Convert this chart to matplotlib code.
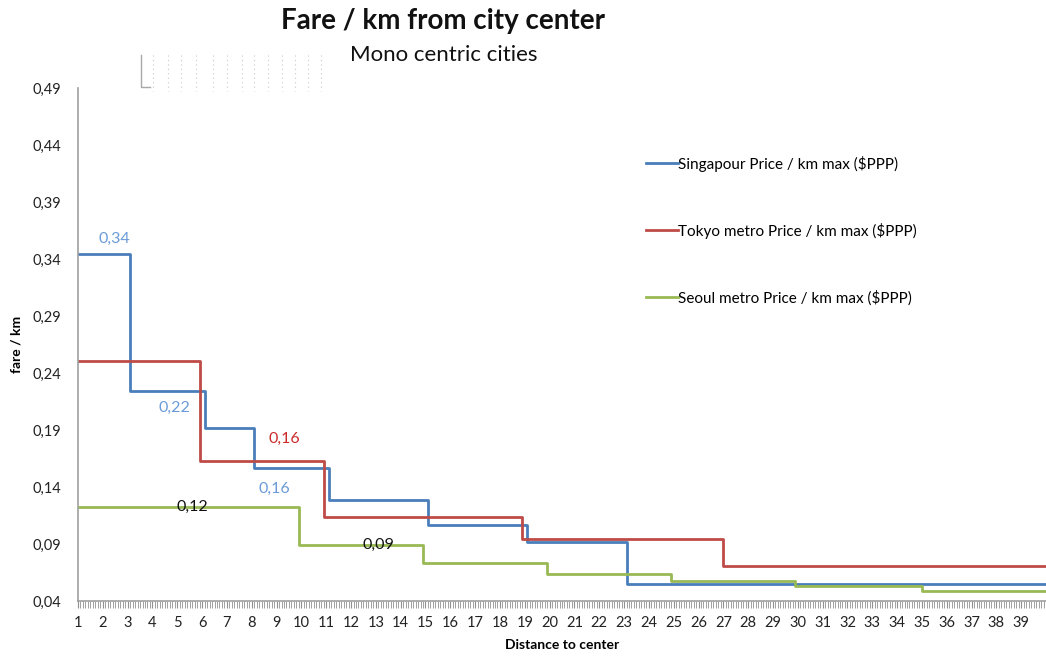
import numpy as np
import matplotlib.pyplot as plt
from matplotlib.lines import Line2D
from matplotlib.ticker import FixedLocator, FuncFormatter, MultipleLocator

plt.rcParams['font.family'] = ['Lato', 'DejaVu Sans']

# step data: distance where each fare starts (last point closes the line)
sg_km = [1, 3.1, 6.1, 8.1, 11.1, 15.1, 19.1, 23.1, 40]
sg_fare = [0.344, 0.224, 0.192, 0.157, 0.129, 0.107, 0.092, 0.055, 0.055]

tk_km = [1, 5.9, 10.9, 18.9, 27.0, 40]
tk_fare = [0.2505, 0.163, 0.114, 0.094, 0.0707, 0.0707]

se_km = [1, 9.9, 14.9, 19.9, 24.9, 29.9, 35.0, 40]
se_fare = [0.1225, 0.089, 0.0733, 0.0637, 0.0575, 0.0532, 0.0488, 0.0488]

series_names = ['Singapour Price / km max ($PPP)',
                'Tokyo metro Price / km max ($PPP)',
                'Seoul metro Price / km max ($PPP)']
y_ticks = [0.04, 0.09, 0.14, 0.19, 0.24, 0.29, 0.34, 0.39, 0.44, 0.49]
x_labels = list(range(1, 40))

blue, red, green = '#4a7ebb', '#be4b48', '#98b954'

W, H = 1046, 657
fig = plt.figure(figsize=(W / 100, H / 100), dpi=100)
ax = fig.add_axes([78 / W, 1 - 601 / H, 1 - 78 / W, (601 - 88) / H])

lw = 2.0
ax.step(sg_km, sg_fare, where='post', color=blue, lw=lw, label=series_names[0])
ax.step(tk_km, tk_fare, where='post', color=red, lw=lw, label=series_names[1])
ax.step(se_km, se_fare, where='post', color=green, lw=lw, label=series_names[2])

ax.set_xlim(1, 40)
ax.set_ylim(0.04, 0.49)

ax.yaxis.set_major_locator(FixedLocator(y_ticks))
ax.yaxis.set_major_formatter(FuncFormatter(lambda v, p: f'{v:.2f}'.replace('.', ',')))
ax.xaxis.set_major_locator(FixedLocator(x_labels))
ax.xaxis.set_major_formatter(FuncFormatter(lambda v, p: f'{int(round(v))}'))
ax.xaxis.set_minor_locator(MultipleLocator(0.1))

for s in ['top', 'right']:
    ax.spines[s].set_visible(False)
for s in ['left', 'bottom']:
    ax.spines[s].set_color('#a0a0a0')
    ax.spines[s].set_linewidth(1.2)

ax.tick_params(axis='y', length=0, labelsize=10.5, pad=12, colors='#222222')
ax.tick_params(axis='x', which='major', length=5, color='#909090', labelsize=10.5,
               pad=6, labelcolor='#222222')
ax.tick_params(axis='x', which='minor', length=5, color='#909090', width=0.6)

ax.set_xlabel('Distance to center', fontsize=10, fontweight='bold', labelpad=6)
ax.set_ylabel('fare / km', fontsize=10, fontweight='bold', labelpad=0)
ax.yaxis.set_label_coords(-0.057, 0.5)

fmt = lambda v: f'{v:.2f}'.replace('.', ',')
lab = dict(fontsize=11.5, ha='center', va='center')
ax.annotate(fmt(sg_fare[0]), (2.45, sg_fare[0]), xytext=(0, 11), textcoords='offset points', color='#6a9bd8', **lab)
ax.annotate(fmt(sg_fare[1]), (4.9, sg_fare[1]), xytext=(0, -12), textcoords='offset points', color='#6a9bd8', **lab)
ax.annotate(fmt(sg_fare[3]), (8.9, sg_fare[3]), xytext=(0, -15), textcoords='offset points', color='#6a9bd8', **lab)
ax.annotate(fmt(tk_fare[1]), (9.3, tk_fare[1]), xytext=(0, 16), textcoords='offset points', color='#cc2a2a', **lab)
ax.annotate(fmt(se_fare[0]), (5.6, se_fare[0]), xytext=(0, 0), textcoords='offset points', color='#111111', **lab)
ax.annotate(fmt(se_fare[1]), (13.1, se_fare[1]), xytext=(0, 0), textcoords='offset points', color='#111111', **lab)

leg = ax.legend(loc='upper left', bbox_to_anchor=(638 / W, 1 - 148 / H), bbox_transform=fig.transFigure,
                frameon=False, fontsize=11, handlelength=2.1, handletextpad=0.05,
                labelspacing=3.35, borderpad=0)

fig.text(443 / W, 1 - 21 / H, 'Fare / km from city center', ha='center', va='center',
         fontsize=20, fontweight='bold', color='#111111')
fig.text(444 / W, 1 - 55 / H, 'Mono centric cities', ha='center', va='center',
         fontsize=16, color='#111111')

# small leftover legend artefact at the top left
fx = lambda px: px / W
fy = lambda py: 1 - py / H
fig.add_artist(Line2D([fx(141), fx(141), fx(150)], [fy(55), fy(87), fy(87)], color='#a8a8a8', lw=1))
for px in [153, 168, 181, 196, 213, 227, 242, 254, 268, 282, 295, 308, 321]:
    fig.add_artist(Line2D([fx(px), fx(px)], [fy(55), fy(91)], color='#c8c8d0', lw=0.8, ls=(0, (1, 3))))

fig.savefig('out.png', dpi=100)
